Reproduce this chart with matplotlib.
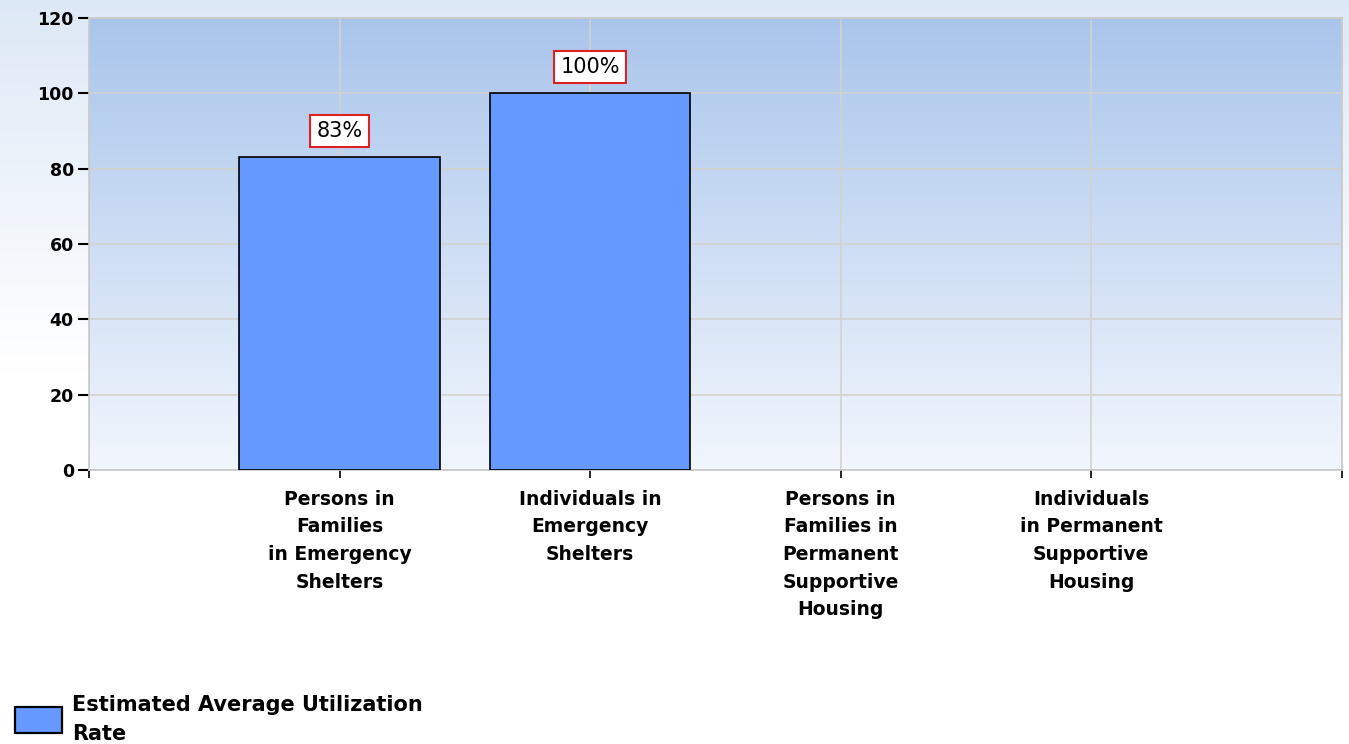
import numpy as np
import matplotlib
matplotlib.use("Agg")
import matplotlib.pyplot as plt
from matplotlib.colors import LinearSegmentedColormap
from matplotlib.patches import Rectangle

# Data
categories = [
    "Persons in\nFamilies\nin Emergency\nShelters",
    "Individuals in\nEmergency\nShelters",
    "Persons in\nFamilies in\nPermanent\nSupportive\nHousing",
    "Individuals\nin Permanent\nSupportive\nHousing",
]
utilization = [83, 100, 0, 0]
labels = ["83%", "100%", None, None]
series_name = "Estimated Average Utilization\nRate"
y_ticks = [0, 20, 40, 60, 80, 100, 120]

bar_color = "#6699ff"
font = "DejaVu Sans"

fig = plt.figure(figsize=(13.49, 7.44), dpi=100)

# figure background gradient (light blue at top -> white)
bg = fig.add_axes([0, 0, 1, 1], zorder=-10)
fig_cmap = LinearSegmentedColormap.from_list("figbg", ["#ffffff", "#ffffff", "#dde8f6"])
bg.imshow(np.linspace(0, 1, 256).reshape(-1, 1), aspect="auto", cmap=fig_cmap,
          origin="lower", extent=[0, 1, 0, 1])
bg.set_axis_off()

ax = fig.add_axes([0.066, 0.368, 0.9287, 0.608])
x = np.arange(1, len(categories) + 1)

# plot area gradient
ax_cmap = LinearSegmentedColormap.from_list("axbg", ["#f2f6fd", "#a9c5eb"])
ax.imshow(np.linspace(0, 1, 256).reshape(-1, 1), aspect="auto", cmap=ax_cmap,
          origin="lower", extent=[0, 5, 0, 120], zorder=0)

# zero-height bars have no visible outline in the original
edges = ["black" if v > 0 else "none" for v in utilization]
ax.bar(x, utilization, width=0.8, color=bar_color, edgecolor=edges,
       linewidth=1.2, zorder=3)

for xi, val, lab in zip(x, utilization, labels):
    if lab is None:
        continue
    ax.annotate(lab, (xi, val), xytext=(0, 19), textcoords="offset points",
                ha="center", va="center", fontsize=15, family=font, zorder=5,
                bbox=dict(boxstyle="square,pad=0.3", fc="white", ec="#dd2222", lw=1.5))

ax.set_xlim(0, 5)
ax.set_ylim(0, 120)
ax.set_yticks(y_ticks)
ax.set_yticklabels([str(v) for v in y_ticks], fontsize=12.5, fontweight="bold", family=font)
ax.set_xticks(list(x) + [0, 5])
ax.set_xticklabels(categories + ["", ""], fontsize=13.5, family=font, fontweight="bold",
                   linespacing=1.58, va="top")

ax.tick_params(axis="y", length=8, width=1.5, color="black", pad=3)
ax.tick_params(axis="x", length=6, width=1.2, color="black", pad=8)

ax.grid(True, color="#d4d2cc", linewidth=1.2, zorder=1)
ax.set_axisbelow(True)
for s in ax.spines.values():
    s.set_color("#c8c8c8")
    s.set_linewidth(1.2)

# legend in bottom left corner
leg = fig.add_axes([0, 0, 1, 1], zorder=5)
leg.set_xlim(0, 1349)
leg.set_ylim(744, 0)
leg.set_axis_off()
leg.add_patch(Rectangle((15, 707), 47, 26, fc=bar_color, ec="black", lw=1.6))
leg.text(72, 695, series_name, fontsize=15, fontweight="bold", family=font,
         va="top", ha="left", linespacing=1.55)

fig.savefig("out.png", dpi=100)
